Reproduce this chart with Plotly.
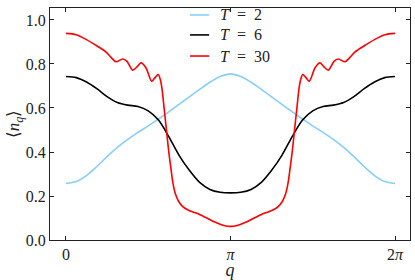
import math
import plotly.graph_objects as go

# wavevector positions in units of pi
q_smooth = [0, 0.0625, 0.125, 0.1875, 0.25, 0.3125, 0.375, 0.4375, 0.5, 0.5625, 0.625, 0.6875,
            0.75, 0.8125, 0.875, 0.9375, 1.0, 1.0625, 1.125, 1.1875, 1.25, 1.3125, 1.375, 1.4375,
            1.5, 1.5625, 1.625, 1.6875, 1.75, 1.8125, 1.875, 1.9375, 2.0]

n_T2 = [0.257, 0.266, 0.293, 0.334, 0.379, 0.421, 0.457, 0.489, 0.519, 0.550, 0.582, 0.616,
        0.651, 0.685, 0.717, 0.743, 0.755,
        0.743, 0.717, 0.685, 0.651, 0.616, 0.582, 0.550, 0.519, 0.489, 0.457, 0.421, 0.379,
        0.334, 0.293, 0.266, 0.257]

n_T6 = [0.743, 0.738, 0.718, 0.688, 0.652, 0.625, 0.613, 0.607, 0.587, 0.545, 0.470, 0.385,
        0.317, 0.262, 0.230, 0.217, 0.214,
        0.217, 0.230, 0.262, 0.317, 0.385, 0.470, 0.545, 0.587, 0.607, 0.613, 0.625, 0.652,
        0.688, 0.718, 0.738, 0.743]

q_T30 = [0, 0.061, 0.122, 0.182, 0.243, 0.274, 0.304, 0.345, 0.371, 0.405, 0.432, 0.456,
         0.486, 0.521, 0.541, 0.561, 0.575, 0.585, 0.595, 0.605, 0.615, 0.625, 0.637, 0.65,
         0.665, 0.685, 0.71, 0.745, 0.80, 0.855, 0.915, 0.96, 1.0,
         1.04, 1.085, 1.145, 1.2, 1.255, 1.29, 1.315, 1.335, 1.35, 1.363, 1.375, 1.385, 1.395,
         1.405, 1.415, 1.425, 1.439, 1.459, 1.479, 1.514, 1.544, 1.568, 1.595, 1.629, 1.655,
         1.696, 1.726, 1.757, 1.818, 1.878, 1.939, 2.0]

n_T30 = [0.939, 0.933, 0.912, 0.885, 0.855, 0.830, 0.810, 0.823, 0.812, 0.772, 0.787, 0.805,
         0.783, 0.722, 0.738, 0.752, 0.725, 0.680, 0.610, 0.540, 0.470, 0.400, 0.330, 0.260,
         0.210, 0.175, 0.152, 0.135, 0.120, 0.100, 0.078, 0.066, 0.062,
         0.066, 0.078, 0.100, 0.120, 0.135, 0.152, 0.175, 0.210, 0.260, 0.330, 0.400, 0.470,
         0.540, 0.610, 0.680, 0.725, 0.752, 0.738, 0.722, 0.783, 0.805, 0.787, 0.772, 0.812,
         0.823, 0.810, 0.830, 0.855, 0.885, 0.912, 0.933, 0.939]

x_tick_vals = [0, 1, 2]
x_tick_text = ["0", "<i>π</i>", "2<i>π</i>"]
y_tick_vals = [0.0, 0.2, 0.4, 0.6, 0.8, 1.0]
y_tick_text = ["0.0", "0.2", "0.4", "0.6", "0.8", "1.0"]

series = [
    ("<i>T</i>\u2002=\u20022", q_smooth, n_T2, "#87cefa"),
    ("<i>T</i>\u2002=\u20026", q_smooth, n_T6, "#000000"),
    ("<i>T</i>\u2002=\u200230", q_T30, n_T30, "#ff0000"),
]

FONT = "'Liberation Serif', serif"
fig = go.Figure()
for name, qs, ns, col in series:
    fig.add_trace(go.Scatter(
        x=[v * math.pi for v in qs], y=ns, name=name, mode="lines", showlegend=False,
        line=dict(color=col, width=1.6, shape="spline", smoothing=0.8),
    ))

# hand-placed legend (paper coordinates), matching the reference's compact layout
legend_y = [0.970, 0.884, 0.793]
for (name, _, _, col), ly in zip(series, legend_y):
    fig.add_shape(type="line", xref="paper", yref="paper", x0=0.389, x1=0.442, y0=ly, y1=ly,
                  line=dict(color=col, width=1.6))
    fig.add_annotation(xref="paper", yref="paper", x=0.467, y=ly, text=name,
                       showarrow=False, xanchor="left", yanchor="middle",
                       font=dict(family=FONT, size=16, color="#222"))

axis_common = dict(showline=True, linecolor="#222", linewidth=1, mirror="ticks",
                   ticks="inside", ticklen=4, tickwidth=1, tickcolor="#222",
                   showgrid=False, zeroline=False, automargin=False,
                   tickfont=dict(family=FONT, size=16, color="#222"))

fig.update_layout(
    width=415, height=280,
    margin=dict(l=50, r=5, t=8, b=40),
    paper_bgcolor="white", plot_bgcolor="white",
    font=dict(family=FONT, size=16, color="#222"),
    xaxis=dict(range=[-0.097 * math.pi, 2.091 * math.pi],
               tickvals=[v * math.pi for v in x_tick_vals], ticktext=x_tick_text,
               title=dict(text="<i>q</i>", standoff=4, font=dict(family=FONT, size=18)),
               **axis_common),
    yaxis=dict(range=[0, 1.0545], tickvals=y_tick_vals, ticktext=y_tick_text,
               title=dict(text="⟨<i>n</i><sub><i>q</i></sub>⟩", standoff=0,
                          font=dict(family=FONT, size=17)),
               **axis_common),
    showlegend=False,
)

fig.write_html("out.html", config={"displayModeBar": False},
               post_script="document.body.style.margin='0px';")
